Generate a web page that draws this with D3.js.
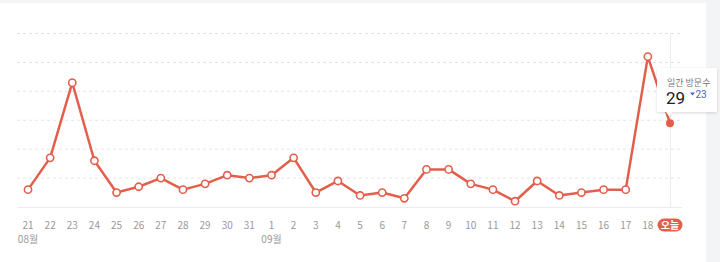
<!DOCTYPE html>
<html><head><meta charset="utf-8">
<script src="https://cdn.jsdelivr.net/npm/d3@7"></script>
<style>
html,body{margin:0;padding:0;background:#f3f4f6;}
svg{display:block;font-family:"Noto Sans CJK KR","Noto Sans",sans-serif;}
</style></head>
<body>
<svg id="c" width="720" height="262"></svg>
<script>
const days = ["21","22","23","24","25","26","27","28","29","30","31","1","2","3","4","5","6","7","8","9","10","11","12","13","14","15","16","17","18","오늘"];
const visits = [6,17,43,16,5,7,10,6,8,11,10,11,17,5,9,4,5,3,13,13,8,6,2,9,4,5,6,6,52,29];
const months = [{i:0,label:"08월"},{i:11,label:"09월"}];
const yTicks = [0,10,20,30,40,50,60];
const tipTitle = "일간 방문수";
const tipDiff = 23;

const svg = d3.select("#c");
svg.append("rect").attr("x",0).attr("y",3).attr("width",706).attr("height",259).attr("fill","#fff");

const x = d3.scalePoint().domain(d3.range(days.length)).range([28,670]);
const y = d3.scaleLinear().domain([0,60]).range([207,33.5]);

// grid
const g = svg.append("g");
g.selectAll("line.grid").data(yTicks.filter(d=>d>0)).join("line")
  .attr("x1",17).attr("x2",682).attr("y1",d=>y(d)).attr("y2",d=>y(d))
  .attr("stroke","#e4e4e4").attr("stroke-dasharray","3,3").attr("stroke-width",1);
g.append("line").attr("x1",17).attr("x2",682).attr("y1",y(0)+0.5).attr("y2",y(0)+0.5).attr("stroke","#ebebeb");
// today vertical line
const last = days.length-1;
g.append("line").attr("x1",x(last)+0.5).attr("x2",x(last)+0.5).attr("y1",y(60)).attr("y2",y(0))
  .attr("stroke","#ececec");

// x axis labels
const ax = svg.append("g");
ax.selectAll("text.day").data(days.slice(0,-1)).join("text")
  .attr("x",(d,i)=>x(i)).attr("y",229).attr("text-anchor","middle")
  .attr("font-size",10).attr("fill","#999").text(d=>d);
ax.selectAll("text.month").data(months).join("text")
  .attr("x",d=>x(d.i)).attr("y",243).attr("text-anchor","middle")
  .attr("font-size",10).attr("fill","#999").text(d=>d.label);
// today badge
ax.append("rect").attr("x",x(last)-12.5).attr("y",218.5).attr("width",25).attr("height",13).attr("rx",6.5)
  .attr("fill","#e35f4b");
ax.append("text").attr("x",x(last)).attr("y",228.5).attr("text-anchor","middle")
  .attr("font-size",10).attr("font-weight","bold").attr("fill","#fff").text(days[last]);

// line
const line = d3.line().x((d,i)=>x(i)).y(d=>y(d));
svg.append("path").datum(visits).attr("d",line).attr("fill","none")
  .attr("stroke","#e35f4b").attr("stroke-width",2.5).attr("stroke-linejoin","round");
svg.selectAll("circle.pt").data(visits.slice(0,-1)).join("circle")
  .attr("cx",(d,i)=>x(i)).attr("cy",d=>y(d)).attr("r",3.6)
  .attr("fill","#fff").attr("stroke","#e35f4b").attr("stroke-width",1.6);
svg.append("circle").attr("cx",x(last)).attr("cy",y(visits[last])).attr("r",4).attr("fill","#e35f4b");

// tooltip
const defs = svg.append("defs");
const f = defs.append("filter").attr("id","sh").attr("x","-20%").attr("y","-20%").attr("width","140%").attr("height","150%");
f.append("feDropShadow").attr("dx",0).attr("dy",1).attr("stdDeviation",1.5).attr("flood-color","#000").attr("flood-opacity",0.15);
const tx = 657, ty = 68, tw = 60, th = 44;
const tip = svg.append("g");
tip.append("path").attr("filter","url(#sh)").attr("fill","#fff")
  .attr("d",`M${tx},${ty}h${tw}v${th}h${-(tw-15)}l-3,4l-3,-4h${-9}z`);
tip.append("text").attr("x",667).attr("y",86).attr("font-size",9).attr("fill","#777").text(tipTitle);
tip.append("text").attr("x",666).attr("y",104).attr("font-size",17).attr("fill","#222")
  .attr("font-family","Roboto,'Noto Sans',sans-serif").text(visits[last]);
tip.append("path").attr("d","M690,92.5h5l-2.5,3z").attr("fill","#4a64c8");
tip.append("text").attr("x",695.5).attr("y",98).attr("font-size",10).attr("fill","#4a64c8")
  .attr("font-family","Roboto,'Noto Sans',sans-serif").text(tipDiff);
</script>
</body></html>
